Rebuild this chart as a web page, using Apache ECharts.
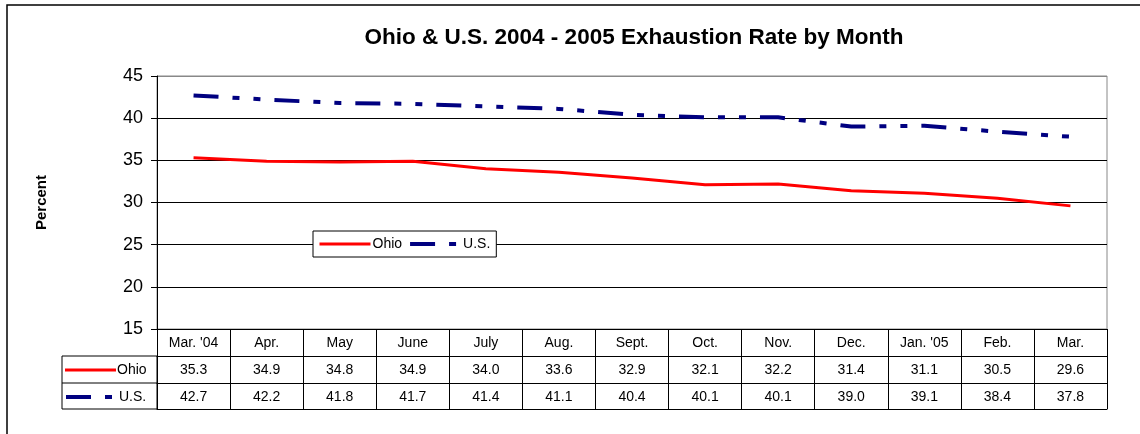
<!DOCTYPE html>
<html>
<head>
<meta charset="utf-8">
<script src="https://cdn.jsdelivr.net/npm/echarts@6/dist/echarts.min.js"></script>
<style>
  html, body { margin: 0; padding: 0; background: #fff; }
  #chart { width: 1140px; height: 434px; }
</style>
</head>
<body>
<div id="chart"></div>
<script>
const months = ["Mar. '04", 'Apr.', 'May', 'June', 'July', 'Aug.', 'Sept.', 'Oct.', 'Nov.', 'Dec.', "Jan. '05", 'Feb.', 'Mar.'];
const ohio = [35.3, 34.9, 34.8, 34.9, 34.0, 33.6, 32.9, 32.1, 32.2, 31.4, 31.1, 30.5, 29.6];
const us = [42.7, 42.2, 41.8, 41.7, 41.4, 41.1, 40.4, 40.1, 40.1, 39.0, 39.1, 38.4, 37.8];

const font = 'Liberation Sans, Arial, sans-serif';
const usDash = [25, 14, 7, 14, 7, 14];

// one x axis per table row: the library places the labels in the cells
const tableRow = (offset, labels, showTicks) => ({
  type: 'category',
  data: months,
  position: 'bottom',
  offset: offset,
  boundaryGap: true,
  axisLine: { show: true, lineStyle: { color: '#000', width: 1 } },
  axisTick: { show: showTicks, length: 80, lineStyle: { color: '#000', width: 1 } },
  axisLabel: {
    show: labels != null,
    margin: 7,
    fontFamily: font,
    fontSize: 14,
    color: '#000',
    formatter: (v, i) => labels ? labels[i] : ''
  }
});

const chart = echarts.init(document.getElementById('chart'));
chart.setOption({
  animation: false,
  title: {
    text: 'Ohio & U.S. 2004 - 2005 Exhaustion Rate by Month',
    left: 629,
    top: 21,
    textAlign: 'center',
    textStyle: { fontFamily: font, fontSize: 22.5, fontWeight: 'bold', color: '#000' }
  },
  legend: {
    left: 313,
    top: 231,
    orient: 'horizontal',
    backgroundColor: '#fff',
    borderColor: '#000',
    borderWidth: 1,
    padding: [6, 6, 6, 5],
    itemGap: 6,
    itemWidth: 51,
    itemHeight: 14,
    itemStyle: { opacity: 0 },
    textStyle: { fontFamily: font, fontSize: 14, color: '#000', padding: [0, 0, 0, -3] },
    data: [
      { name: 'Ohio', lineStyle: { width: 3 } },
      { name: 'U.S.', lineStyle: { width: 4 } }
    ]
  },
  grid: {
    left: 157,
    right: 33,
    top: 76,
    height: 253,
    show: true,
    borderColor: '#888',
    borderWidth: 1,
    backgroundColor: '#fff'
  },
  xAxis: [
    tableRow(0, months, true),
    tableRow(27, ohio.map(v => v.toFixed(1)), false),
    tableRow(54, us.map(v => v.toFixed(1)), false),
    tableRow(80, null, false)
  ],
  yAxis: {
    type: 'value',
    min: 15,
    max: 45,
    interval: 5,
    name: 'Percent',
    nameLocation: 'middle',
    nameGap: 108,
    nameRotate: 90,
    nameTextStyle: { fontFamily: font, fontSize: 15, fontWeight: 'bold', color: '#000' },
    axisLine: { show: true, lineStyle: { color: '#000', width: 1 } },
    axisTick: { show: true, length: 6, lineStyle: { color: '#000' } },
    axisLabel: { fontFamily: font, fontSize: 18, color: '#000', margin: 14 },
    splitLine: {
      show: true,
      lineStyle: { color: ['#000', '#000', '#000', '#000', '#000', '#000', '#888'], width: 1 }
    }
  },
  series: [
    {
      name: 'Ohio',
      type: 'line',
      data: ohio,
      showSymbol: false,
      symbol: 'none',
      color: '#ff0000',
      lineStyle: { color: '#ff0000', width: 3 }
    },
    {
      name: 'U.S.',
      type: 'line',
      data: us,
      showSymbol: false,
      symbol: 'none',
      color: '#000080',
      lineStyle: { color: '#000080', width: 4, type: usDash }
    }
  ],
  graphic: [
    // outer chart frame
    { type: 'rect', shape: { x: 7, y: 5, width: 1150, height: 450 }, style: { fill: 'none', stroke: '#000', lineWidth: 1.5 }, silent: true },
    // table row headers
    { type: 'rect', shape: { x: 62, y: 356, width: 95, height: 53 }, style: { fill: 'none', stroke: '#000', lineWidth: 1 } },
    { type: 'line', shape: { x1: 62, y1: 383, x2: 157, y2: 383 }, style: { stroke: '#000', lineWidth: 1 } },
    { type: 'line', shape: { x1: 65, y1: 370, x2: 116, y2: 370 }, style: { stroke: '#ff0000', lineWidth: 3 } },
    { type: 'text', x: 117, y: 370, style: { text: 'Ohio', font: '14px ' + font, fill: '#000', verticalAlign: 'middle' } },
    { type: 'line', shape: { x1: 66, y1: 397, x2: 113, y2: 397 }, style: { stroke: '#000080', lineWidth: 4, lineDash: usDash } },
    { type: 'text', x: 119, y: 397, style: { text: 'U.S.', font: '14px ' + font, fill: '#000', verticalAlign: 'middle' } }
  ]
});
</script>
</body>
</html>
